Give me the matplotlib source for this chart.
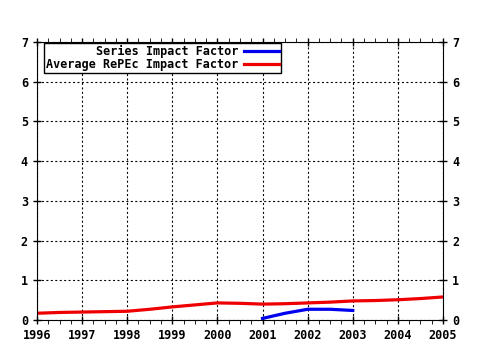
import matplotlib
matplotlib.use("Agg")
import matplotlib.pyplot as plt
from matplotlib.ticker import MultipleLocator

# semi-annual readings taken off the chart
years_red = [1996, 1996.5, 1997, 1997.5, 1998, 1998.5, 1999, 1999.5, 2000, 2000.5,
             2001, 2001.5, 2002, 2002.5, 2003, 2003.5, 2004, 2004.5, 2005]
avg_repec = [0.17, 0.19, 0.20, 0.21, 0.22, 0.27, 0.33, 0.38, 0.43, 0.42,
             0.40, 0.41, 0.43, 0.45, 0.48, 0.49, 0.51, 0.54, 0.58]

years_blue = [2001, 2001.5, 2002, 2002.5, 2003]
series_if = [0.04, 0.17, 0.27, 0.27, 0.24]

year_ticks = list(range(1996, 2006))
y_ticks = list(range(0, 8))

plt.rcParams['font.family'] = ['DejaVu Sans Mono']
plt.rcParams['font.weight'] = 'bold'

fig = plt.figure(figsize=(4.8, 3.5), dpi=100)
ax = fig.add_axes([37 / 480, 1 - 320 / 350, 406 / 480, 278 / 350])

ax.plot(years_blue, series_if, color='#0000ee', lw=2.3, label='Series Impact Factor')
ax.plot(years_red, avg_repec, color='#ee0000', lw=2.3, label='Average RePEc Impact Factor')

ax.set_xlim(1996, 2005)
ax.set_ylim(0, 7)
ax.set_xticks(year_ticks)
ax.set_yticks(y_ticks)
ax.xaxis.set_minor_locator(MultipleLocator(0.25))
ax.grid(True, which='major', color='black', linestyle=(0, (1.8, 2.2)), lw=0.8)

ax.tick_params(axis='both', which='major', direction='inout', length=6, width=1,
               labelsize=8.5, top=True, right=True, labelright=True)
ax.tick_params(axis='x', which='minor', direction='out', length=3, top=True)
for lab in ax.get_xticklabels() + ax.get_yticklabels():
    lab.set_fontweight('bold')

leg = ax.legend(loc='upper left', bbox_to_anchor=(0.017, 0.997), markerfirst=False,
                prop={'family': 'DejaVu Sans Mono', 'weight': 'bold', 'size': 8.5},
                frameon=True, fancybox=False, edgecolor='black', framealpha=1,
                borderpad=0.15, labelspacing=0.05, handlelength=3.0, handletextpad=0.5,
                borderaxespad=0)
leg.get_frame().set_linewidth(1)
for t in leg.get_texts():
    t.set_ha('right')

fig.savefig('out.png', dpi=100)
